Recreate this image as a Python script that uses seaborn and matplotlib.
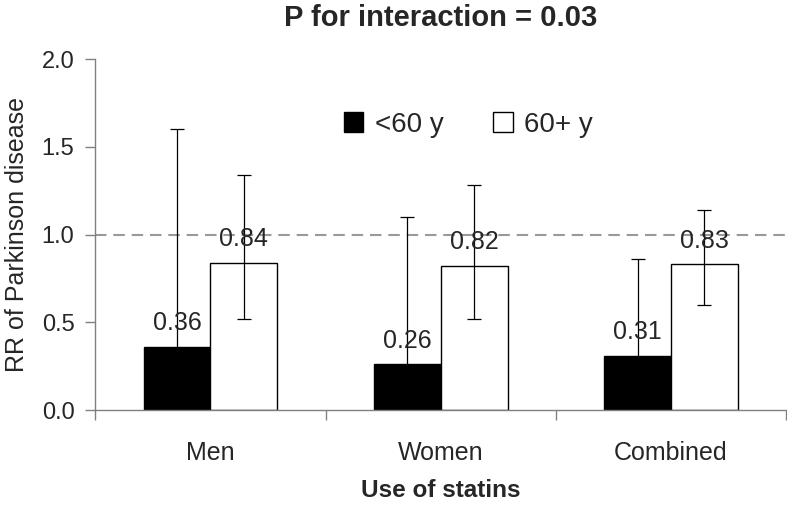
import pandas as pd
import matplotlib
matplotlib.use('Agg')
import matplotlib.pyplot as plt
import seaborn as sns

# values
groups = ['Men', 'Women', 'Combined']
ages = ['<60 y', '60+ y']
rr_young = [0.36, 0.26, 0.31]
rr_old = [0.84, 0.82, 0.83]
lo_young = [0.08, 0.06, 0.11]
hi_young = [1.60, 1.10, 0.86]
lo_old = [0.52, 0.52, 0.60]
hi_old = [1.34, 1.28, 1.14]

df = pd.DataFrame({
    'group': groups * 2,
    'age': [ages[0]] * 3 + [ages[1]] * 3,
    'rr': rr_young + rr_old,
    'lo': lo_young + lo_old,
    'hi': hi_young + hi_old,
})

sns.set_style('white')
plt.rcParams['font.family'] = ['Liberation Sans', 'DejaVu Sans']

fig = plt.figure(figsize=(7.87, 5.05), dpi=100)
ax = fig.add_axes([0.121, 0.188, 0.878, 0.695])

sns.barplot(data=df, x='group', y='rr', hue='age', order=groups, hue_order=ages,
            palette=['black', 'white'], edgecolor='black', linewidth=1,
            width=0.58, errorbar=None, ax=ax)

# error bars + value labels on each bar
bars = [p for p in ax.patches if p.get_height() > 0]
bars = sorted(bars, key=lambda p: p.get_x())
rows = []
for g in groups:
    for a in ages:
        rows.append(df[(df.group == g) & (df.age == a)].iloc[0])
for p, row in zip(bars, rows):
    xc = p.get_x() + p.get_width() / 2
    ax.errorbar(xc, row.rr, yerr=[[row.rr - row.lo], [row.hi - row.rr]],
                fmt='none', ecolor='black', elinewidth=0.9, capsize=5, capthick=0.9)
    ax.text(xc, row.rr + 0.095, f'{row.rr:.2f}', ha='center', va='baseline', fontsize=18)

ax.axhline(1.0, color='#999999', linestyle=(0, (5.5, 3.3)), linewidth=1.5, zorder=0)

ax.set_ylim(0, 2.0)
ax.set_xlim(-0.5, 2.5)
ax.set_yticks([0, 0.5, 1.0, 1.5, 2.0])
ax.set_yticklabels(['0.0', '0.5', '1.0', '1.5', '2.0'], fontsize=17)
ax.set_xticks([0, 1, 2])
ax.set_xticklabels(groups, fontsize=18)
ax.set_xticks([-0.5, 0.5, 1.5, 2.5], minor=True)
ax.tick_params(axis='x', which='major', length=0, pad=22)
ax.tick_params(axis='x', which='minor', length=7, color='#808080', width=1, direction='out', bottom=True)
ax.tick_params(axis='y', length=7, color='#808080', width=1, direction='out', left=True, pad=8)

for s in ['top', 'right']:
    ax.spines[s].set_visible(False)
for s in ['left', 'bottom']:
    ax.spines[s].set_color('#808080')
    ax.spines[s].set_linewidth(1)

ax.set_ylabel('RR of Parkinson disease', fontsize=18, labelpad=9)
ax.set_xlabel('Use of statins', fontsize=17.5, fontweight='bold', labelpad=10)
ax.set_title('P for interaction = 0.03', fontsize=21, fontweight='bold', pad=24)

handles, labels = ax.get_legend_handles_labels()
ax.legend(handles, labels, ncol=2, frameon=False, fontsize=20, loc='center',
          bbox_to_anchor=(0.54, 0.813), handlelength=0.7, handleheight=0.7,
          handletextpad=0.4, columnspacing=1.8)

fig.savefig('out.png', dpi=100)
